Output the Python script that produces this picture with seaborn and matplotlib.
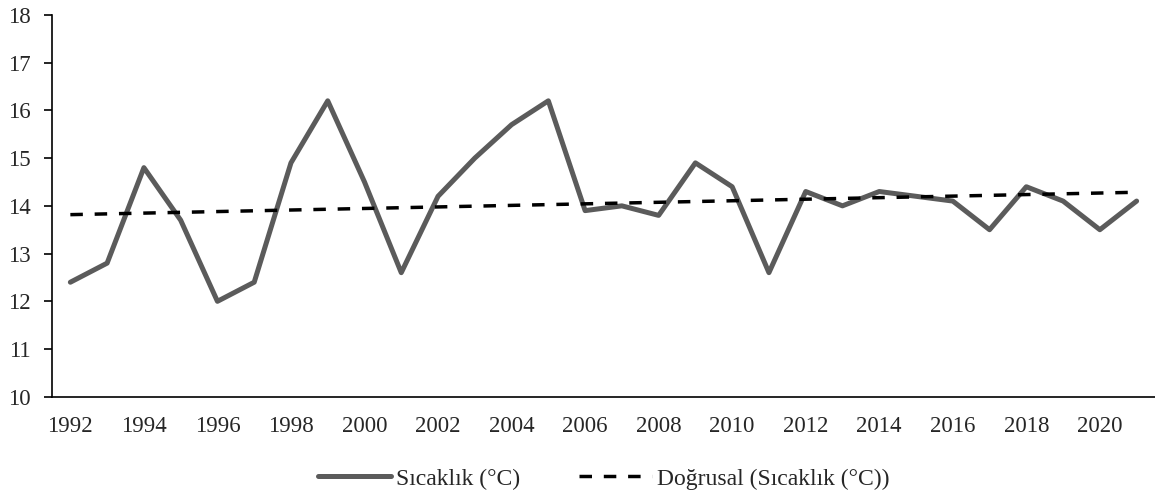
import numpy as np
import pandas as pd
import matplotlib
matplotlib.use('Agg')
import matplotlib.pyplot as plt
import seaborn as sns

# Veriler
years = list(range(1992, 2022))
temps = [12.4, 12.8, 14.8, 13.7, 12.0, 12.4, 14.9, 16.2, 14.5, 12.6,
         14.2, 15.0, 15.7, 16.2, 13.9, 14.0, 13.8, 14.9, 14.4, 12.6,
         14.3, 14.0, 14.3, 14.2, 14.1, 13.5, 14.4, 14.1, 13.5, 14.1]
tick_years = list(range(1992, 2022, 2))

df = pd.DataFrame({'Yıl': years, 'Sıcaklık': temps})
# Doğrusal eğilim
coef = np.polyfit(df['Yıl'], df['Sıcaklık'], 1)
df['Trend'] = np.polyval(coef, df['Yıl'])

sns.set_style('white')
plt.rcParams['font.family'] = ['Liberation Serif', 'DejaVu Serif']

fig, ax = plt.subplots(figsize=(11.55, 4.96), dpi=100)
fig.subplots_adjust(left=0.045, right=1.0, top=0.97, bottom=0.2)

sns.lineplot(data=df, x='Yıl', y='Sıcaklık', ax=ax, color='#5b5b5b', linewidth=3.6,
             label='Sıcaklık (°C)')
sns.lineplot(data=df, x='Yıl', y='Trend', ax=ax, color='black', linewidth=2.5,
             linestyle=(0, (3.6, 3.4)), label='Doğrusal (Sıcaklık (°C))')

ax.set_xlim(1991.5, 2021.5)
ax.set_ylim(10, 18)
ax.set_xticks(tick_years)
ax.set_yticks(range(10, 19))
ax.set_xlabel('')
ax.set_ylabel('')
ax.tick_params(axis='x', length=0, labelsize=16.5, pad=14)
ax.tick_params(axis='y', length=6, width=1.2, labelsize=16.5, left=True, color='black', pad=9)
for s in ['top', 'right']:
    ax.spines[s].set_visible(False)
for s in ['left', 'bottom']:
    ax.spines[s].set_color('black')
    ax.spines[s].set_linewidth(1.2)

ax.legend(loc='center', bbox_to_anchor=(0.5, -0.215), ncol=2, frameon=False,
          fontsize=17, handlelength=3.1, handletextpad=0.2, columnspacing=2.5)

plt.savefig('out.png', dpi=100)
